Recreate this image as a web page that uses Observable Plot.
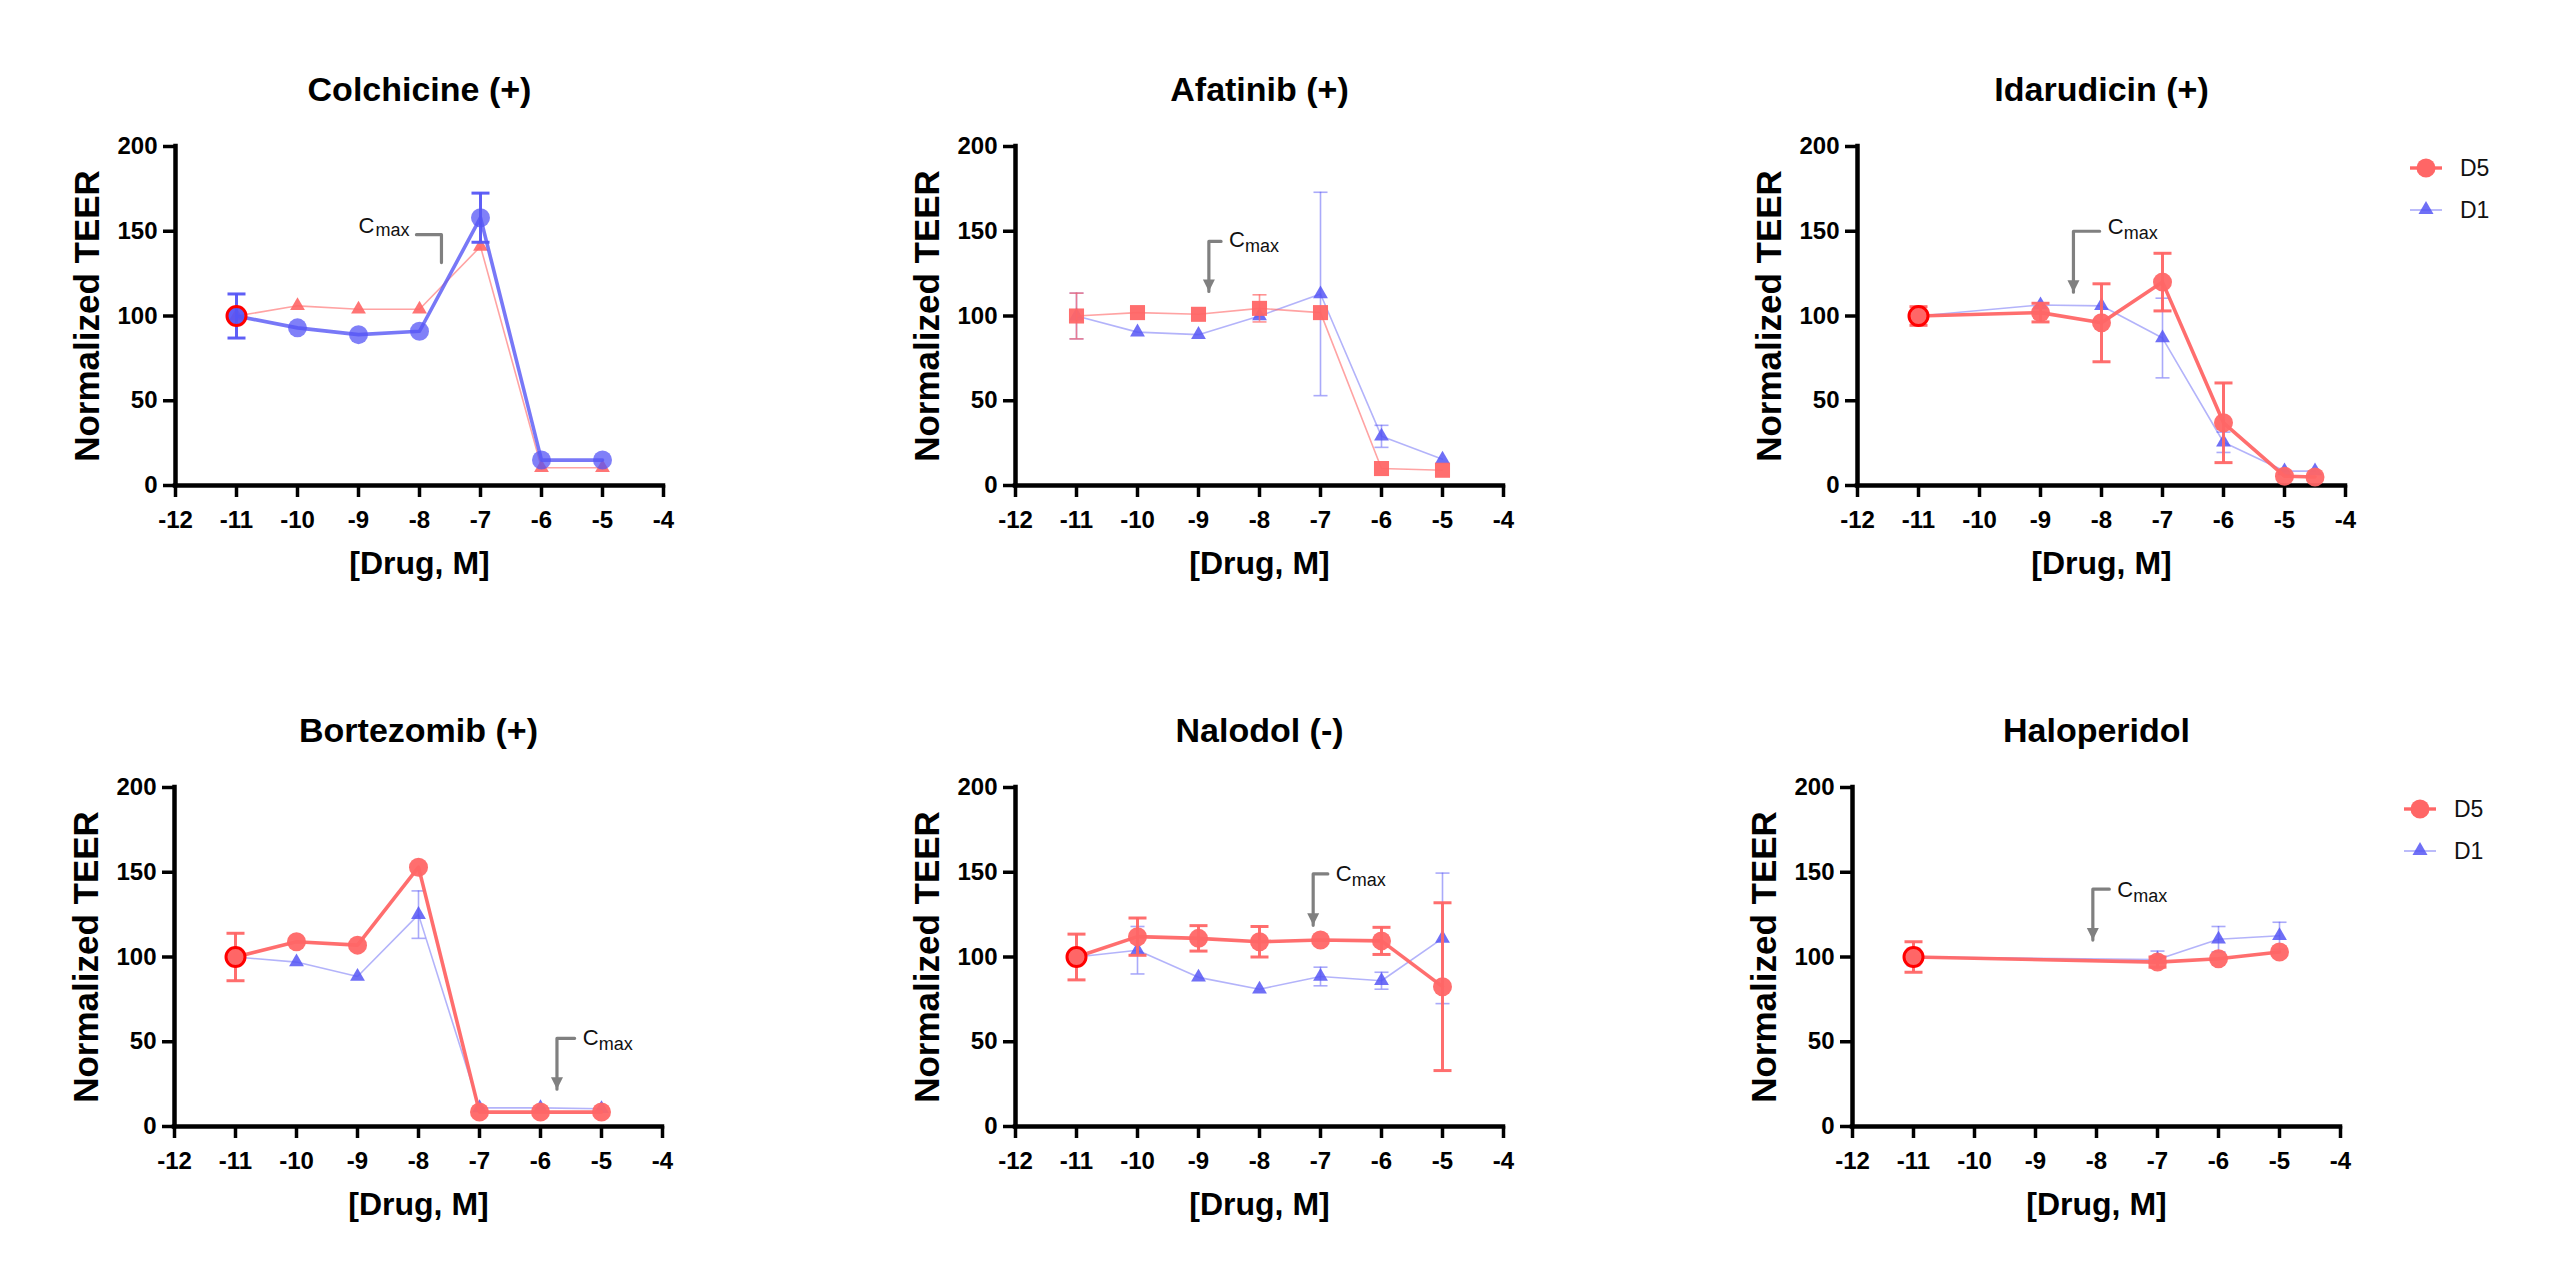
<!DOCTYPE html>
<html><head><meta charset="utf-8">
<script src="https://cdn.jsdelivr.net/npm/d3@7"></script>
<script src="https://cdn.jsdelivr.net/npm/@observablehq/plot@0.6"></script>
<style>
html,body{margin:0;padding:0;background:#fff;}
#root{position:relative;width:2560px;height:1288px;overflow:hidden;font-family:"Liberation Sans",Arial,sans-serif;}
.panel{position:absolute;}
.legend{position:absolute;}
</style></head><body><div id="root"></div>
<script>
// ---------- data ----------
const xTicks = [-12, -11, -10, -9, -8, -7, -6, -5, -4];
const yTicks = [0, 50, 100, 150, 200];
const titles = ["Colchicine (+)", "Afatinib (+)", "Idarudicin (+)", "Bortezomib (+)", "Nalodol (-)", "Haloperidol"];
const legendLabels = ["D5", "D1"];

const colchicineX = [-11, -10, -9, -8, -7, -6, -5];
const colchicineBlue = [100, 93, 89, 91, 158, 15, 15];
const colchicineBlueErr = [13, 0, 0, 0, 14.5, 0, 0];
const colchicineRed = [100, 106, 104, 104, 141, 10.5, 10.5];
const colchicineRedErr = [0, 0, 0, 0, 0, 0, 0];

const afatinibX = [-11, -10, -9, -8, -7, -6, -5];
const afatinibRed = [100, 102, 101, 104.5, 102, 10, 9];
const afatinibRedErr = [13.5, 0, 0, 8, 0, 0, 0];
const afatinibBlue = [100, 90.5, 89, 100, 113, 29, 15.5];
const afatinibBlueErr = [13.5, 0, 0, 0, 60, 6.5, 0];

const idarudicinX = [-11, -9, -8, -7, -6, -5, -4.5];
const idarudicinD5 = [100, 102, 96, 120, 37, 5.5, 5];
const idarudicinD5Err = [5.5, 5.5, 23, 17, 23.5, 0, 0];
const idarudicinD1 = [100, 106.5, 106, 87, 25.5, 8.5, 8.5];
const idarudicinD1Err = [0, 0, 0, 23.5, 6, 0, 0];

const bortezomibX = [-11, -10, -9, -8, -7, -6, -5];
const bortezomibD5 = [100, 109, 107, 153, 8.5, 8.5, 8.5];
const bortezomibD5Err = [14, 0, 0, 0, 0, 0, 0];
const bortezomibD1 = [100, 97, 88.5, 125, 11, 11, 10.5];
const bortezomibD1Err = [0, 0, 0, 14, 0, 0, 0];

const nalodolX = [-11, -10, -9, -8, -7, -6, -5];
const nalodolD5 = [100, 112, 111, 109, 110, 109.5, 82.5];
const nalodolD5Err = [13.5, 11, 7.5, 9, 0, 8, 49.5];
const nalodolD1 = [100, 104, 88, 81, 88.5, 86, 111];
const nalodolD1Err = [0, 14, 0, 0, 5.5, 5, 38.5];

const haloperidolX = [-11, -7, -6, -5];
const haloperidolD5 = [100, 97, 99, 103];
const haloperidolD5Err = [9, 3, 0, 0];
const haloperidolD1 = [100, 98.5, 110.5, 112.5];
const haloperidolD1Err = [5, 5, 7.5, 8];

// Cmax annotations (data units)
const cmaxX = [-7.64, -8.83, -8.46, -5.73, -7.12, -8.06];
const cmaxTop = [148, 144, 150, 52, 149, 140];
const cmaxTip = [131.5, 114.5, 114, 22, 118.7, 110];
const cmaxElbow = [-8.05, -8.63, -8.03, -5.44, -6.88, -7.79];

// ---------- styles ----------
const RED = "#ff6666";
const BLUE = "#5656f5";
const FONT = '"Liberation Sans", Arial, Helvetica, sans-serif';

const capSymbol = {draw(ctx, size) { const r = Math.sqrt(size / Math.PI); ctx.moveTo(-r, 0); ctx.lineTo(r, 0); }};
const headSymbol = {draw(ctx, size) { const r = Math.sqrt(size / Math.PI); ctx.moveTo(-r, -2 * r); ctx.lineTo(r, -2 * r); ctx.lineTo(0, 0); ctx.closePath(); }};

const thin = (color, symbol, r) => ({color, symbol, r, lineWidth: 1.6, lineOpacity: color === RED ? 0.6 : 0.45, errWidth: 1.6, errOpacity: color === RED ? 0.7 : 0.5, cap: 7, fillOpacity: color === RED ? 0.9 : 0.85});
const thick = (color) => ({color, symbol: "circle", r: 9.5, lineWidth: 3.6, lineOpacity: color === RED ? 0.95 : 0.8, errWidth: 3, errOpacity: 0.95, cap: 9, fillOpacity: color === RED ? 0.95 : 0.75});

const panels = [
  {series: [{...thin(RED, "triangle", 5.5), x: colchicineX, y: colchicineRed, e: colchicineRedErr},
            {...thick(BLUE), x: colchicineX, y: colchicineBlue, e: colchicineBlueErr}],
   ring: true, textLeft: true, head: false, textShift: -8},
  {series: [{...thin(BLUE, "triangle", 5.5), x: afatinibX, y: afatinibBlue, e: afatinibBlueErr},
            {...thin(RED, "square", 8.5), fillOpacity: 0.95, x: afatinibX, y: afatinibRed, e: afatinibRedErr}],
   ring: false, textLeft: false, head: true, textShift: 0},
  {series: [{...thin(BLUE, "triangle", 5.5), x: idarudicinX, y: idarudicinD1, e: idarudicinD1Err},
            {...thick(RED), x: idarudicinX, y: idarudicinD5, e: idarudicinD5Err}],
   ring: true, textLeft: false, head: true, textShift: -3},
  {series: [{...thin(BLUE, "triangle", 5.5), x: bortezomibX, y: bortezomibD1, e: bortezomibD1Err},
            {...thick(RED), x: bortezomibX, y: bortezomibD5, e: bortezomibD5Err}],
   ring: true, textLeft: false, head: true, textShift: 1},
  {series: [{...thin(BLUE, "triangle", 5.5), x: nalodolX, y: nalodolD1, e: nalodolD1Err},
            {...thick(RED), x: nalodolX, y: nalodolD5, e: nalodolD5Err}],
   ring: true, textLeft: false, head: true, textShift: 1},
  {series: [{...thin(BLUE, "triangle", 5.5), x: haloperidolX, y: haloperidolD1, e: haloperidolD1Err},
            {...thick(RED), x: haloperidolX, y: haloperidolD5, e: haloperidolD5Err}],
   ring: true, textLeft: false, head: true, textShift: 2}
];

const lefts = [0, 840, 1682, -1, 840, 1677];
const tops = [0, 0, 0, 641, 641, 641];
const heights = [641, 641, 641, 647, 647, 647];

function seriesMarks(s) {
  const rows = s.x.map((x, i) => ({x, y: s.y[i], e: s.e[i]}));
  const errRows = rows.filter(d => d.e > 0);
  return [
    Plot.ruleX(errRows, {x: "x", y1: d => d.y - d.e, y2: d => d.y + d.e, stroke: s.color, strokeWidth: s.errWidth, strokeOpacity: s.errOpacity}),
    Plot.dot(errRows, {x: "x", y: d => d.y + d.e, symbol: capSymbol, r: s.cap, fill: "none", stroke: s.color, strokeWidth: s.errWidth, strokeOpacity: s.errOpacity}),
    Plot.dot(errRows, {x: "x", y: d => d.y - d.e, symbol: capSymbol, r: s.cap, fill: "none", stroke: s.color, strokeWidth: s.errWidth, strokeOpacity: s.errOpacity}),
    Plot.line(rows, {x: "x", y: "y", stroke: s.color, strokeWidth: s.lineWidth, strokeOpacity: s.lineOpacity}),
    Plot.dot(rows, {x: "x", y: "y", symbol: s.symbol, r: s.r, fill: s.color, fillOpacity: s.fillOpacity, stroke: "none"})
  ];
}

const root = document.getElementById("root");

panels.forEach((p, i) => {
  const H = heights[i];
  const mTop = 146, plotH = 339;
  const ax = cmaxX[i], top = cmaxTop[i], tip = cmaxTip[i], elbow = cmaxElbow[i];
  const ann = [{x: elbow, y: top}, {x: ax, y: top}, {x: ax, y: tip}];
  const textMarks = p.textLeft
    ? [Plot.text([{x: elbow, y: top}], {x: "x", y: "y", text: () => "max", textAnchor: "end", dx: -7, dy: 4 + p.textShift, fontSize: 18, fontWeight: "normal", fill: "#111", lineAnchor: "middle"}),
       Plot.text([{x: elbow, y: top}], {x: "x", y: "y", text: () => "C", textAnchor: "end", dx: -42, dy: -1 + p.textShift, fontSize: 22, fontWeight: "normal", fill: "#111", lineAnchor: "middle"})]
    : [Plot.text([{x: elbow, y: top}], {x: "x", y: "y", text: () => "C", textAnchor: "start", dx: 8, dy: -1 + p.textShift, fontSize: 22, fontWeight: "normal", fill: "#111", lineAnchor: "middle"}),
       Plot.text([{x: elbow, y: top}], {x: "x", y: "y", text: () => "max", textAnchor: "start", dx: 24, dy: 5 + p.textShift, fontSize: 18, fontWeight: "normal", fill: "#111", lineAnchor: "middle"})];
  const thickS = p.series[p.series.length - 1];
  const marks = [
    // axes
    Plot.axisX({ticks: xTicks, tickFormat: d => String(d), tickSize: 12, tickPadding: 13, fontSize: 24, fontWeight: "bold", strokeWidth: 3.5, label: null}),
    Plot.axisY({ticks: yTicks, tickFormat: d => String(d), tickSize: 12, tickPadding: 6, fontSize: 24, fontWeight: "bold", strokeWidth: 3.5, label: null}),
    Plot.ruleX([xTicks[0]], {strokeWidth: 4.5, strokeLinecap: "square"}),
    Plot.ruleY([yTicks[0]], {strokeWidth: 4.5, strokeLinecap: "square"}),
    // titles
    Plot.text([titles[i]], {text: d => d, frameAnchor: "top", dy: -56, fontSize: 34, fontWeight: "bold", lineAnchor: "middle"}),
    Plot.text(["Normalized TEER"], {text: d => d, frameAnchor: "left", textAnchor: "middle", dx: -88, rotate: -90, fontSize: 35, fontWeight: "bold", lineAnchor: "middle"}),
    Plot.text(["[Drug, M]"], {text: d => d, frameAnchor: "bottom", dy: 78, fontSize: 32, fontWeight: "bold", lineAnchor: "middle"}),
    // Cmax annotation
    Plot.line(ann, {x: "x", y: "y", stroke: "#808080", strokeWidth: 3.2}),
    ...(p.head ? [Plot.dot([{x: ax, y: tip}], {x: "x", y: "y", symbol: headSymbol, r: 6, fill: "#808080", stroke: "none"})] : []),
    ...textMarks,
    // series
    ...p.series.flatMap(seriesMarks),
    ...(p.ring ? [Plot.dot([{x: thickS.x[0], y: thickS.y[0]}], {x: "x", y: "y", r: 9.5, fill: thickS.color, fillOpacity: thickS.fillOpacity, stroke: "#ff0000", strokeWidth: 3})] : [])
  ];
  const svg = Plot.plot({
    width: 840, height: H,
    marginLeft: 175, marginRight: 177, marginTop: mTop, marginBottom: H - mTop - plotH,
    x: {domain: [xTicks[0], xTicks[xTicks.length - 1]]},
    y: {domain: [yTicks[0], yTicks[yTicks.length - 1]]},
    style: {fontFamily: FONT, background: "none", overflow: "visible", color: "black"},
    marks
  });
  const div = document.createElement("div");
  div.className = "panel";
  div.style.left = lefts[i] + "px";
  div.style.top = tops[i] + "px";
  div.appendChild(svg);
  root.appendChild(div);
});

// legends (beside the right column)
function addLegend(x, y) {
  const ns = "http://www.w3.org/2000/svg";
  const s = document.createElementNS(ns, "svg");
  s.setAttribute("width", 130); s.setAttribute("height", 84);
  s.setAttribute("class", "legend");
  s.style.left = x + "px"; s.style.top = y + "px";
  s.innerHTML = `
    <line x1="2" x2="34" y1="18" y2="18" stroke="${RED}" stroke-width="3.4"/>
    <circle cx="18" cy="18" r="9.5" fill="${RED}"/>
    <text x="52" y="18" dy="0.36em" font-family='${FONT}' font-size="23" fill="#111">${legendLabels[0]}</text>
    <line x1="2" x2="34" y1="60" y2="60" stroke="${BLUE}" stroke-opacity="0.45" stroke-width="1.8"/>
    <path d="M18,51 L25.5,64 L10.5,64 Z" fill="${BLUE}" fill-opacity="0.85"/>
    <text x="52" y="60" dy="0.36em" font-family='${FONT}' font-size="23" fill="#111">${legendLabels[1]}</text>`;
  root.appendChild(s);
}
addLegend(2408, 150);
addLegend(2402, 791);
</script></body></html>
